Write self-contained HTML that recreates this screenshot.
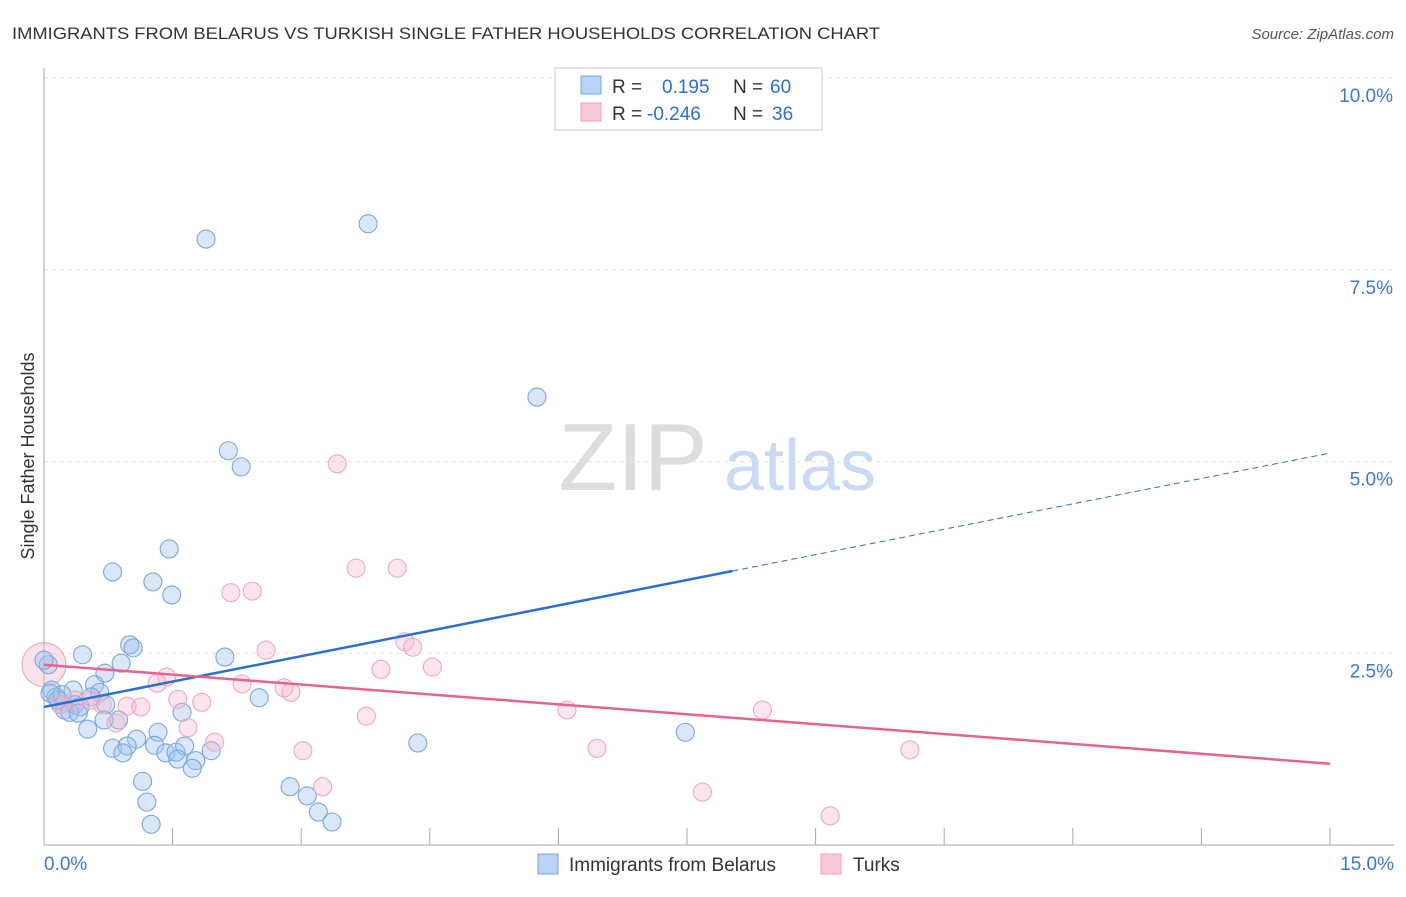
<!DOCTYPE html>
<html><head><meta charset="utf-8"><style>
body{margin:0;background:#fff;font-family:"Liberation Sans",sans-serif;}
svg text{font-family:"Liberation Sans",sans-serif;}
</style></head><body>
<svg id="chart" width="1406" height="892" xmlns="http://www.w3.org/2000/svg">
<text x="12" y="39" font-size="17" fill="#333" textLength="868" lengthAdjust="spacingAndGlyphs">IMMIGRANTS FROM BELARUS VS TURKISH SINGLE FATHER HOUSEHOLDS CORRELATION CHART</text>
<text x="1394" y="39" font-size="15" fill="#555" font-style="italic" text-anchor="end">Source: ZipAtlas.com</text>
<text x="34" y="456" font-size="18" fill="#333" text-anchor="middle" transform="rotate(-90 34 456)">Single Father Households</text>
<g>
<text x="633" y="490" font-size="96" fill="#ddd" font-family="Liberation Serif, serif" text-anchor="middle">ZIP</text>
<text x="800" y="490" font-size="72" fill="#c9daf2" text-anchor="middle">atlas</text>
</g>
<g id="grid"></g>
<g id="axes"></g>
<g id="marks"></g>
<g>
<rect x="555" y="68" width="267" height="62" fill="#fff" stroke="#ccc"/>
<rect x="581" y="76" width="20" height="18" fill="#b8d3f5" stroke="#7aa7e0"/>
<text x="612" y="93" font-size="19" fill="#333">R =</text>
<text x="662" y="93" font-size="19" fill="#2a6fd6">0.195</text>
<text x="733" y="93" font-size="19" fill="#333">N =</text>
<text x="770" y="93" font-size="19" fill="#2a6fd6">60</text>
<rect x="581" y="103" width="20" height="18" fill="#f9c9d8" stroke="#eea0b8"/>
<text x="612" y="120" font-size="19" fill="#333">R =</text>
<text x="647" y="120" font-size="19" fill="#2a6fd6">-0.246</text>
<text x="733" y="120" font-size="19" fill="#333">N =</text>
<text x="772" y="120" font-size="19" fill="#2a6fd6">36</text>
</g>
<g>
<rect x="538" y="854" width="20" height="20" fill="#b8d3f5" stroke="#7aa7e0"/>
<text x="569" y="871" font-size="19" fill="#333">Immigrants from Belarus</text>
<rect x="821" y="854" width="20" height="20" fill="#f9c9d8" stroke="#eea0b8"/>
<text x="853" y="871" font-size="19" fill="#333">Turks</text>
</g>
</svg>
<script>
const xTicks=[0,1.5,3,4.5,6,7.5,9,10.5,12,13.5,15];
const yTicks=[2.5,5,7.5,10];
const yTickLabels=["2.5%","5.0%","7.5%","10.0%"];
const blueX=[1.89,3.78,5.75,2.15,2.30,1.46,0.80,1.27,1.49,1.00,1.04,0.45,0.90,0.71,2.11,0.05,0.09,0.34,0.59,0.65,0.55,0.14,0.19,0.24,0.36,0.42,0.72,1.61,2.51,0.51,0.87,1.33,1.08,0.80,0.97,0.92,1.29,1.42,1.54,1.64,1.56,1.77,1.73,1.95,4.36,7.48,1.15,1.20,1.25,2.87,3.07,3.20,3.36,0.16,0.30,0.40,0.21,0.07,0.70,0.00];
const blueY=[7.90,8.10,5.84,5.14,4.93,3.86,3.56,3.43,3.26,2.61,2.57,2.48,2.37,2.24,2.45,2.35,2.02,2.02,2.09,1.99,1.93,1.93,1.83,1.76,1.83,1.80,1.83,1.73,1.92,1.51,1.63,1.47,1.38,1.26,1.29,1.20,1.30,1.20,1.21,1.29,1.12,1.10,1.00,1.23,1.33,1.47,0.83,0.56,0.27,0.76,0.64,0.43,0.30,1.89,1.73,1.72,1.96,1.98,1.63,2.41];
const pinkX=[3.42,3.64,4.12,2.18,2.43,2.59,4.21,4.30,4.53,3.93,1.43,1.32,2.31,2.80,2.88,1.56,1.84,3.76,6.10,8.38,0.97,1.13,0.68,0.55,0.84,1.68,1.99,3.02,6.45,10.10,3.25,7.68,9.17,0.19,0.36];
const pinkY=[4.97,3.61,3.61,3.29,3.31,2.54,2.65,2.58,2.32,2.29,2.19,2.11,2.10,2.05,1.99,1.90,1.86,1.68,1.76,1.76,1.81,1.80,1.83,1.89,1.59,1.53,1.34,1.23,1.26,1.24,0.76,0.69,0.38,1.83,1.89];
const pinkBig=[0.00,2.35];
const blueTrend=[1.80,5.11]; const blueSolidEnd=8.03;
const pinkTrend=[2.35,1.06];
const NS="http://www.w3.org/2000/svg";
const sx=v=>44+v/15*1286, sy=v=>845-v*76.7;
function mk(tag,attrs,parent){const e=document.createElementNS(NS,tag);for(const k in attrs)e.setAttribute(k,attrs[k]);document.getElementById(parent).appendChild(e);return e;}
yTicks.forEach((t,i)=>{
 const l=mk('line',{x1:44,x2:1394,y1:sy(t),y2:sy(t),stroke:'#e2e2e2','stroke-dasharray':'4,4'},'grid');
 
 
 const tx=mk('text',{x:1393,y:sy(t)+24,'font-size':19,fill:'#3b78d8','text-anchor':'end'},'grid');
 tx.textContent=yTickLabels[i];
 
 
});
mk('line',{x1:44,x2:44,y1:68,y2:845,stroke:'#aaa'},'axes');
mk('line',{x1:44,x2:1394,y1:845,y2:845,stroke:'#aaa'},'axes');
xTicks.forEach(t=>{const l=mk('line',{x1:sx(t),x2:sx(t),y1:828,y2:845,stroke:'#aaa'},'axes');
 
 });
let a=mk('text',{x:44,y:870,'font-size':19,fill:'#3b78d8'},'axes');a.textContent=xTicks[0].toFixed(1)+'%';


a=mk('text',{x:1394,y:870,'font-size':19,fill:'#3b78d8','text-anchor':'end'},'axes');a.textContent=xTicks[xTicks.length-1].toFixed(1)+'%';


const big=mk('circle',{cx:sx(pinkBig[0]),cy:sy(pinkBig[1]),r:22,fill:'rgba(240,160,185,0.3)',stroke:'#f0a0b8'},'marks');


blueX.forEach((x,i)=>{const c=mk('circle',{cx:sx(x),cy:sy(blueY[i]),r:9,fill:'rgba(160,196,240,0.4)',stroke:'#7aa7e0','stroke-width':1.1},'marks');
 
 });
pinkX.forEach((x,i)=>{const c=mk('circle',{cx:sx(x),cy:sy(pinkY[i]),r:9,fill:'rgba(245,180,200,0.35)',stroke:'#f0a8be','stroke-width':1.1},'marks');
 
 });
const by=x=>blueTrend[0]+(blueTrend[1]-blueTrend[0])*x/15;
let t=mk('line',{x1:sx(0),y1:sy(by(0)),x2:sx(blueSolidEnd),y2:sy(by(blueSolidEnd)),stroke:'#2a6fd6','stroke-width':2.5},'marks');


t=mk('line',{x1:sx(blueSolidEnd),y1:sy(by(blueSolidEnd)),x2:sx(15),y2:sy(by(15)),stroke:'#2a6fd6','stroke-width':1,'stroke-dasharray':'6,4'},'marks');


t=mk('line',{x1:sx(0),y1:sy(pinkTrend[0]),x2:sx(15),y2:sy(pinkTrend[1]),stroke:'#e8638e','stroke-width':2.5},'marks');


</script>
</body></html>
